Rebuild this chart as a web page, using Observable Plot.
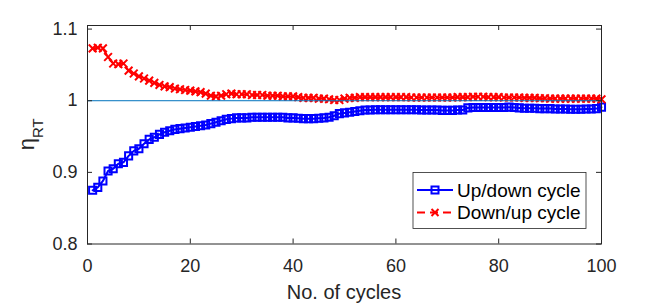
<!DOCTYPE html>
<html>
<head>
<meta charset="utf-8">
<script src="https://cdn.jsdelivr.net/npm/d3@7"></script>
<script src="https://cdn.jsdelivr.net/npm/@observablehq/plot@0.6"></script>
<style>
  html, body { margin: 0; padding: 0; background: #fff; }
  #chart svg { display: block; }
</style>
</head>
<body>
<div id="chart"></div>
<script>
const cycles = d3.range(1, 101);

const upDown = [
  0.875, 0.879, 0.888, 0.902, 0.905, 0.912, 0.914, 0.923, 0.930, 0.933,
  0.940, 0.946, 0.949, 0.953, 0.956, 0.958, 0.960, 0.961, 0.962, 0.963,
  0.964, 0.965, 0.966, 0.968, 0.970, 0.972, 0.974, 0.975, 0.976, 0.976,
  0.976, 0.977, 0.977, 0.977, 0.977, 0.977, 0.977, 0.977, 0.976, 0.976,
  0.9755, 0.975, 0.975, 0.975, 0.9755, 0.976, 0.977, 0.979, 0.982, 0.983,
  0.984, 0.985, 0.986, 0.987, 0.987, 0.9875, 0.9875, 0.9875, 0.9875, 0.9875,
  0.9875, 0.9875, 0.9875, 0.9875, 0.987, 0.987, 0.987, 0.987, 0.9865, 0.9865,
  0.9865, 0.987, 0.987, 0.990, 0.9905, 0.9905, 0.9905, 0.9905, 0.9905, 0.9905,
  0.9905, 0.991, 0.9905, 0.990, 0.9895, 0.9895, 0.9895, 0.989, 0.989, 0.989,
  0.9885, 0.9885, 0.9885, 0.988, 0.988, 0.988, 0.9885, 0.9885, 0.989, 0.991
];

const downUp = [
  1.073, 1.074, 1.073, 1.061, 1.052, 1.051, 1.052, 1.042, 1.038, 1.034,
  1.031, 1.028, 1.025, 1.022, 1.020, 1.019, 1.017, 1.016, 1.015, 1.014,
  1.013, 1.012, 1.010, 1.007, 1.006, 1.007, 1.009, 1.010, 1.009, 1.009,
  1.009, 1.008, 1.008, 1.008, 1.007, 1.007, 1.007, 1.006, 1.006, 1.006,
  1.005, 1.004, 1.004, 1.004, 1.003, 1.003, 1.002, 1.001, 1.001, 1.003,
  1.004, 1.004, 1.005, 1.005, 1.005, 1.005, 1.005, 1.005, 1.005, 1.005,
  1.005, 1.005, 1.0045, 1.0045, 1.0045, 1.0045, 1.0045, 1.0045, 1.0045, 1.0045,
  1.0045, 1.005, 1.005, 1.005, 1.0055, 1.0055, 1.0055, 1.005, 1.005, 1.005,
  1.0045, 1.0045, 1.0045, 1.0045, 1.004, 1.004, 1.004, 1.0035, 1.0035, 1.003,
  1.003, 1.003, 1.003, 1.003, 1.003, 1.003, 1.003, 1.003, 1.003, 1.002
];

const seriesNames = ["Up/down cycle", "Down/up cycle"];
const xTicks = [0, 20, 40, 60, 80, 100];
const yTicks = [0.8, 0.9, 1, 1.1];
const yTickLabels = ["0.8", "0.9", "1", "1.1"];
const refValue = [1];

const rowsUp = cycles.map((c, i) => ({ cycle: c, value: upDown[i] }));
const rowsDown = cycles.map((c, i) => ({ cycle: c, value: downUp[i] }));

const W = 664, H = 305;
const mL = 87, mR = 63, mT = 25, mB = 61.5;
const plotW = W - mL - mR, plotH = H - mT - mB;
const tick = 5;
const axisColor = "#262626";
const blue = "#0000ff", red = "#ff0000";
const font = "'Liberation Sans', Arial, Helvetica, sans-serif";

const chart = Plot.plot({
  width: W,
  height: H,
  marginLeft: mL,
  marginRight: mR,
  marginTop: mT,
  marginBottom: mB,
  style: { fontFamily: font, fontSize: "18px", color: axisColor, background: "#fff" },
  x: { domain: [0, 100] },
  y: { domain: [0.8, 1.105] },
  marks: [
    Plot.line(rowsUp, { x: "cycle", y: "value", stroke: blue, strokeWidth: 2 }),
    Plot.dot(rowsUp, { x: "cycle", y: "value", symbol: "square", r: 4, stroke: blue, strokeWidth: 2, fill: "none" }),
    Plot.line(rowsDown, { x: "cycle", y: "value", stroke: red, strokeWidth: 2, strokeDasharray: "7,4" }),
    Plot.dot(rowsDown, { x: "cycle", y: "value", symbol: "times", r: 3.6, stroke: red, strokeWidth: 2 }),
    Plot.ruleY(refValue, { stroke: "#0072BD", strokeWidth: 1 }),
    Plot.tickX(xTicks, { x: d => d, insetTop: plotH - tick, stroke: axisColor, strokeWidth: 1 }),
    Plot.tickX(xTicks, { x: d => d, insetBottom: plotH - tick, stroke: axisColor, strokeWidth: 1 }),
    Plot.tickY(yTicks, { y: d => d, insetRight: plotW - tick, stroke: axisColor, strokeWidth: 1 }),
    Plot.tickY(yTicks, { y: d => d, insetLeft: plotW - tick, stroke: axisColor, strokeWidth: 1 }),
    Plot.axisX({ ticks: xTicks, tickSize: 0, tickPadding: 15, label: null, fontSize: 18, tickFormat: d => String(d) }),
    Plot.axisY({ ticks: yTicks, tickSize: 0, tickPadding: 10, label: null, fontSize: 18, tickFormat: d => yTickLabels[yTicks.indexOf(d)] }),
    Plot.frame({ stroke: axisColor, strokeWidth: 1 })
  ]
});

document.getElementById("chart").appendChild(chart);

const svg = d3.select(chart);

// x label
svg.append("text")
  .attr("x", mL + plotW / 2)
  .attr("y", 299)
  .attr("text-anchor", "middle")
  .attr("font-family", font)
  .attr("font-size", 20)
  .attr("fill", axisColor)
  .text("No. of cycles");

// y label  η_RT
const yl = svg.append("text")
  .attr("transform", `translate(34,${mT + plotH / 2}) rotate(-90)`)
  .attr("text-anchor", "middle")
  .attr("font-family", font)
  .attr("fill", axisColor);
yl.append("tspan").attr("font-size", 22).text("η");
yl.append("tspan").attr("font-size", 15).attr("dy", 9).text("RT");

// legend
const lg = svg.append("g")
  .attr("font-family", font)
  .attr("font-size", 19)
  .attr("fill", "#000")
  .attr("text-anchor", "start");
lg.append("rect")
  .attr("x", 413).attr("y", 172.5).attr("width", 173).attr("height", 56)
  .attr("fill", "#fff").attr("stroke", axisColor).attr("stroke-width", 0.8);
// row 1
lg.append("line").attr("x1", 417).attr("x2", 453).attr("y1", 190).attr("y2", 190)
  .attr("stroke", blue).attr("stroke-width", 2);
lg.append("rect").attr("x", 435 - 3.5).attr("y", 190 - 3.5).attr("width", 7).attr("height", 7)
  .attr("fill", "none").attr("stroke", blue).attr("stroke-width", 2);
lg.append("text").attr("x", 457).attr("y", 196.5).attr("text-anchor", "start").text(seriesNames[0]);
// row 2
lg.append("line").attr("x1", 417).attr("x2", 453).attr("y1", 212.5).attr("y2", 212.5)
  .attr("stroke", red).attr("stroke-width", 2).attr("stroke-dasharray", "8,5");
lg.append("path")
  .attr("d", "M431.5,209L438.5,216M438.5,209L431.5,216")
  .attr("stroke", red).attr("stroke-width", 2).attr("fill", "none");
lg.append("text").attr("x", 457).attr("y", 219).attr("text-anchor", "start").text(seriesNames[1]);
</script>
</body>
</html>
